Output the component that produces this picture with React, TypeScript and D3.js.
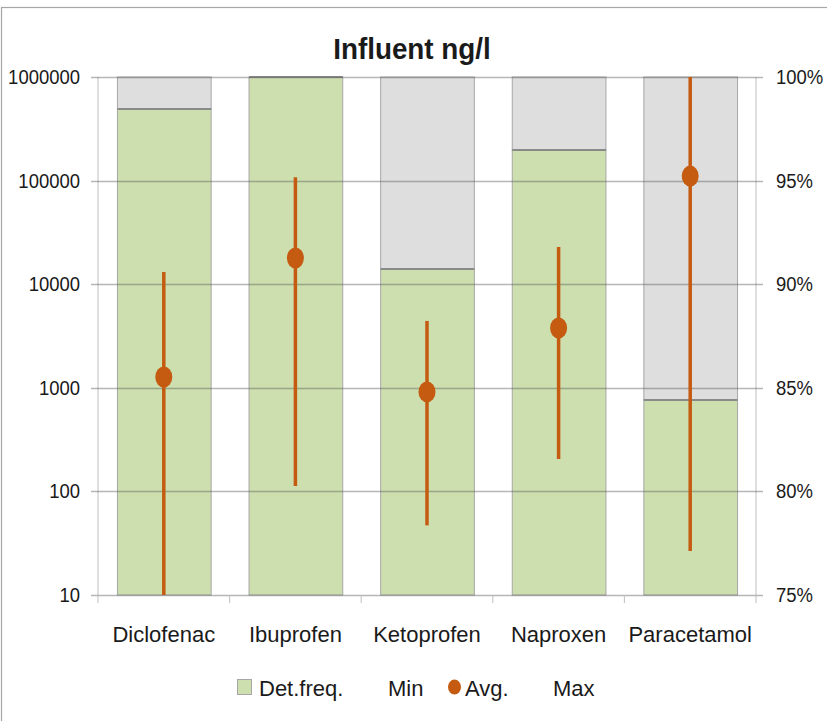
import React from "react";
import * as d3 from "d3";

const categories = ["Diclofenac", "Ibuprofen", "Ketoprofen", "Naproxen", "Paracetamol"];
const detFreq = [0.9846, 1.0, 0.9073, 0.9648, 0.8441];
const minVals = [10, 113, 47, 206, 26.6];
const avgVals = [1270, 17900, 912, 3780, 110600];
const maxVals = [13100, 108000, 4420, 22900, 1000000];
const leftTicks = [10, 100, 1000, 10000, 100000, 1000000];
const rightTicks = [0.75, 0.8, 0.85, 0.9, 0.95, 1.0];
const title = "Influent ng/l";
const legendItems = ["Det.freq.", "Min", "Avg.", "Max"];

const W = 827;
const H = 721;
const FONT = "'Liberation Sans', Arial, sans-serif";
const GREEN = "#cddfae";
const GREY = "#dedede";
const ORANGE = "#c55a11";

function Txt({ x, y, size, anchor = "start", sx = 1, weight = "normal", children }: any) {
  return (
    <text
      transform={`translate(${x},${y}) scale(${sx},1)`}
      fontFamily={FONT}
      fontSize={size}
      fontWeight={weight}
      textAnchor={anchor}
      fill="#1a1a1a"
    >
      {children}
    </text>
  );
}

export default function App() {
  const top = 77;
  const bottom = 595;
  const left = 98;
  const right = 756;

  const y = d3.scaleLog().domain([10, 1000000]).range([bottom, top]);
  const y2 = d3.scaleLinear().domain([0.75, 1]).range([bottom, top]);
  const x = d3.scaleBand<string>().domain(categories).range([left, right]).paddingInner(0.288).paddingOuter(0.144);
  const step = x.step();
  const clampY = (v: number) => Math.max(top, Math.min(bottom, y(v)));

  return (
    <svg width={W} height={H} style={{ position: "absolute", left: 0, top: 0, background: "#fff" }}>
      <rect x={1.5} y={7.5} width={W + 10} height={H + 10} fill="#fff" stroke="#a6a6a6" strokeWidth={1.2} />

      {/* bars */}
      {categories.map((c, i) => {
        const bx = x(c)!;
        const bw = x.bandwidth();
        return (
          <g key={c}>
            <rect x={bx + 0.5} y={y2(1)} width={bw} height={y2(detFreq[i]) - y2(1)} fill={GREY} stroke="#a6a6a6" strokeWidth={1} />
            <rect x={bx + 0.5} y={y2(detFreq[i])} width={bw} height={y2(0.75) - y2(detFreq[i])} fill={GREEN} stroke="#a6a6a6" strokeWidth={1} />
            <line x1={bx + 0.5} x2={bx + bw + 0.5} y1={y2(detFreq[i])} y2={y2(detFreq[i])} stroke="#8a8a8a" strokeWidth={2} />
          </g>
        );
      })}

      {/* axis lines */}
      <line x1={left} x2={left} y1={top} y2={bottom} stroke="#bfbfbf" strokeWidth={1} />
      <line x1={right} x2={right} y1={top} y2={bottom} stroke="#bfbfbf" strokeWidth={1} />

      {/* gridlines */}
      {leftTicks.map((t) => (
        <line key={t} x1={left - 7} x2={right + 7} y1={Math.round(y(t)) + 0.5} y2={Math.round(y(t)) + 0.5} stroke="#606060" strokeOpacity={0.45} strokeWidth={1.3} />
      ))}

      {/* category ticks */}
      {d3.range(categories.length + 1).map((k) => (
        <line key={k} x1={left + k * step} x2={left + k * step} y1={bottom} y2={bottom + 8} stroke="#bfbfbf" strokeWidth={1} />
      ))}

      {/* min-max lines and avg dots */}
      {categories.map((c, i) => {
        const cx = x(c)! + x.bandwidth() / 2;
        return (
          <g key={c}>
            <line x1={cx} x2={cx} y1={clampY(minVals[i])} y2={clampY(maxVals[i])} stroke={ORANGE} strokeWidth={3.5} />
            <ellipse cx={cx} cy={y(avgVals[i])} rx={8.5} ry={10.5} fill={ORANGE} />
          </g>
        );
      })}

      {/* left tick labels */}
      {leftTicks.map((t) => (
        <Txt key={t} x={80} y={y(t) + 7} size={21} anchor="end" sx={0.88}>
          {String(t)}
        </Txt>
      ))}
      {/* right tick labels */}
      {rightTicks.map((t) => (
        <Txt key={t} x={776} y={y2(t) + 7} size={21} sx={0.88}>
          {`${Math.round(t * 100)}%`}
        </Txt>
      ))}

      {/* category labels */}
      {categories.map((c) => (
        <Txt key={c} x={x(c)! + x.bandwidth() / 2} y={642} size={22} anchor="middle">
          {c}
        </Txt>
      ))}

      {/* title */}
      <Txt x={412} y={59} size={29} anchor="middle" weight="bold" sx={0.96}>
        {title}
      </Txt>

      {/* legend */}
      <rect x={237.5} y={679.5} width={14} height={15} fill={GREEN} stroke="#a6a6a6" strokeWidth={1} />
      <Txt x={259} y={696} size={22}>{legendItems[0]}</Txt>
      <Txt x={388} y={696} size={22}>{legendItems[1]}</Txt>
      <ellipse cx={454.5} cy={687} rx={6.5} ry={7.5} fill={ORANGE} />
      <Txt x={465} y={696} size={22}>{legendItems[2]}</Txt>
      <Txt x={553} y={696} size={22}>{legendItems[3]}</Txt>
    </svg>
  );
}
